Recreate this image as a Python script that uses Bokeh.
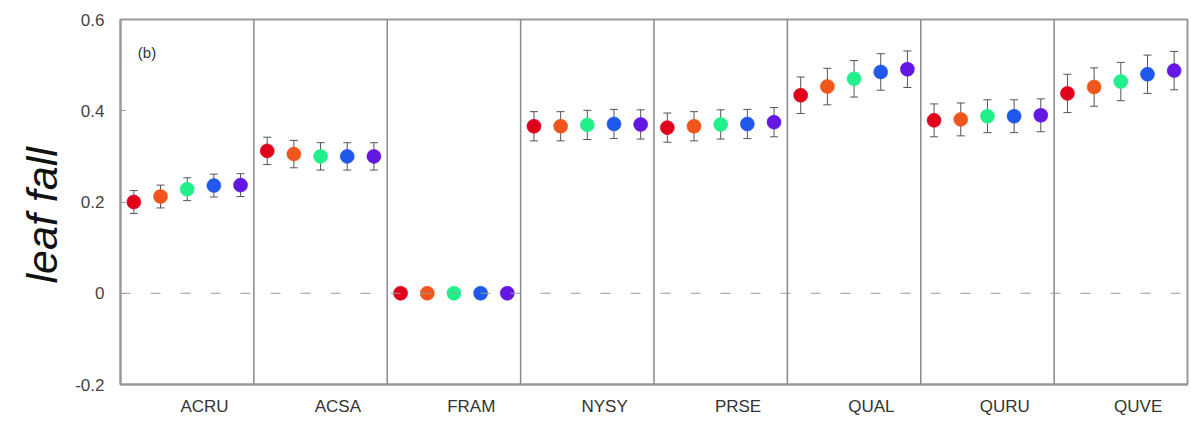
import math
from bokeh.plotting import figure
from bokeh.models import ColumnDataSource, FixedTicker, Whisker, TeeHead, Span, Label, Title
from bokeh.embed import file_html
from bokeh.resources import INLINE

species = ["ACRU", "ACSA", "FRAM", "NYSY", "PRSE", "QUAL", "QURU", "QUVE"]
series_colors = ["#e0001c", "#f0561c", "#22f08a", "#1f58ea", "#6416e2"]

# leaf fall values per species, 5 series each
acru = [0.200, 0.212, 0.228, 0.236, 0.237]
acsa = [0.312, 0.305, 0.300, 0.300, 0.300]
fram = [0.000, 0.000, 0.000, 0.000, 0.000]
nysy = [0.366, 0.366, 0.369, 0.371, 0.370]
prse = [0.363, 0.366, 0.370, 0.371, 0.375]
qual = [0.434, 0.453, 0.470, 0.485, 0.491]
quru = [0.379, 0.381, 0.388, 0.388, 0.390]
quve = [0.438, 0.452, 0.464, 0.480, 0.488]

# error (half-width) per species
errors = [0.025, 0.030, 0.000, 0.032, 0.032, 0.040, 0.036, 0.042]

values = [acru, acsa, fram, nysy, prse, qual, quru, quve]
offsets = [0.1, 0.3, 0.5, 0.7, 0.9]

xs, ys, cols = [], [], []
ex, elo, ehi = [], [], []
for i, vals in enumerate(values):
    for j, v in enumerate(vals):
        xs.append(i + offsets[j])
        ys.append(v)
        cols.append(series_colors[j])
        if errors[i] > 0:
            ex.append(i + offsets[j])
            elo.append(v - errors[i])
            ehi.append(v + errors[i])

src = ColumnDataSource(dict(x=xs, y=ys, color=cols))
src_err = ColumnDataSource(dict(x=ex, lower=elo, upper=ehi))

p = figure(width=1189, height=425, x_range=(0, 8), y_range=(-0.2, 0.6),
           output_backend="svg", toolbar_location=None,
           min_border_left=120, min_border_right=2, min_border_top=19, min_border_bottom=41)

p.xgrid.visible = False
p.ygrid.visible = False
p.outline_line_color = "#999999"
p.outline_line_width = 2

# zero dashed line
p.add_layout(Span(location=0, dimension="width", line_color="#9a9a9a",
                  line_width=1, line_dash="10 20"))

# panel separators
for i in range(1, 8):
    p.add_layout(Span(location=i, dimension="height", line_color="#8a8a8a", line_width=1.5))

w = Whisker(source=src_err, base="x", lower="lower", upper="upper",
            line_color="#555555", line_width=1,
            upper_head=TeeHead(size=8, line_color="#555555", line_width=1),
            lower_head=TeeHead(size=8, line_color="#555555", line_width=1))
p.add_layout(w)

p.scatter("x", "y", source=src, size=14, fill_color="color", line_color="color", line_alpha=0.6)

# axes
p.xaxis.ticker = FixedTicker(ticks=[i + 0.63 for i in range(8)])
p.xaxis.major_label_overrides = {i + 0.63: s for i, s in enumerate(species)}
p.xaxis.major_tick_line_color = None
p.xaxis.minor_tick_line_color = None
p.xaxis.axis_line_color = "#999999"
p.xaxis.axis_line_width = 2
p.xaxis.major_label_text_font = "Liberation Sans"
p.xaxis.major_label_text_font_size = "17px"
p.xaxis.major_label_text_color = "#333333"
p.xaxis.major_label_standoff = 6

p.yaxis.ticker = FixedTicker(ticks=[-0.2, 0.0, 0.2, 0.4, 0.6])
p.yaxis.major_label_overrides = {-0.2: "-0.2", 0.0: "0", 0.2: "0.2", 0.4: "0.4", 0.6: "0.6"}
p.yaxis.minor_tick_line_color = None
p.yaxis.major_tick_in = 5
p.yaxis.major_tick_out = 0
p.yaxis.major_tick_line_color = "#999999"
p.yaxis.axis_line_color = "#999999"
p.yaxis.axis_line_width = 2
p.yaxis.major_label_text_font = "Liberation Sans"
p.yaxis.major_label_text_font_size = "17px"
p.yaxis.major_label_text_color = "#444444"
p.yaxis.major_label_standoff = 16

p.add_layout(Title(text="leaf fall", align="left", offset=101, vertical_align="top",
                   text_font="Liberation Sans", text_font_style="italic",
                   text_font_size="43px", text_color="#111111"), "left")

p.add_layout(Label(x=0.13, y=0.51, text="(b)", text_font="Liberation Sans",
                   text_font_size="15px", text_color="#333333"))

open("out.html", "w").write(file_html(p, INLINE))
